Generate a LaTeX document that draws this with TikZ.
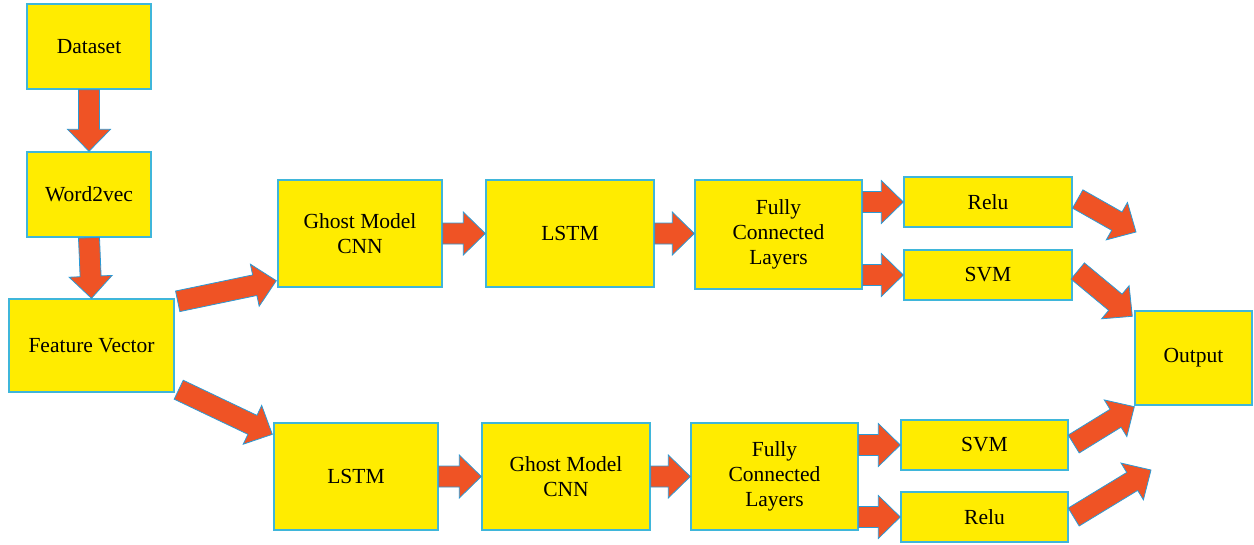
\documentclass[tikz,border=0pt]{standalone}
\usepackage{fontspec}
\setmainfont{Liberation Serif}
\usetikzlibrary{calc}

\definecolor{boxfill}{HTML}{FFEC00}
\definecolor{boxline}{HTML}{3FB6DA}
\definecolor{arrowfill}{HTML}{EF5325}
\definecolor{arrowline}{HTML}{2A9AD6}

\tikzset{
  stage/.style={draw=boxline, fill=boxfill, line width=1.4pt, align=center,
    font=\fontsize{21.5}{25}\selectfont, inner sep=0pt},
  blockarrow/.style={draw=arrowline, fill=arrowfill, line width=0.8pt, line join=miter},
}

% box given by its corners (x1,y1) and (x2,y2)
\newcommand\stagebox[6]{%
  \node[stage, minimum width={(#4-#2)*1pt}, minimum height={(#5-#3)*1pt}]
    (#1) at ({(#2+#4)/2},{(#3+#5)/2}) {#6};}

% fat block arrow from #1 to #2 (shaft 21pt, head 43pt wide, 22pt long)
\newcommand\bigarrow[2]{%
  \path ($(#2)!22pt!(#1)$) coordinate (hb);
  \draw[blockarrow]
    ($(#1)!10.5pt!90:(#2)$) -- ($(hb)!10.5pt!-90:(#1)$) -- ($(hb)!21.5pt!-90:(#1)$)
    -- (#2) -- ($(hb)!21.5pt!90:(#1)$) -- ($(hb)!10.5pt!90:(#1)$)
    -- ($(#1)!10.5pt!-90:(#2)$) -- cycle;}

\begin{document}
\begin{tikzpicture}[x=1pt, y=-1pt]
\useasboundingbox (0,0) rectangle (1254,544);

\stagebox{ds}{27}{4}{151}{89}{Dataset}
\stagebox{wv}{27}{152}{151}{237}{Word2vec}
\stagebox{fv}{9}{299}{174}{392}{Feature Vector}

\stagebox{gc1}{278}{180}{442}{287}{Ghost Model\\CNN}
\stagebox{ls1}{486}{180}{654}{287}{LSTM}
\stagebox{fc1}{695}{180}{862}{289}{Fully\\Connected\\Layers}
\stagebox{re1}{904}{177}{1072}{227}{Relu}
\stagebox{sv1}{904}{250}{1072}{300}{SVM}

\stagebox{out}{1135}{311}{1252}{405}{Output}

\stagebox{ls2}{274}{423}{438}{530}{LSTM}
\stagebox{gc2}{482}{423}{650}{530}{Ghost Model\\CNN}
\stagebox{fc2}{691}{423}{858}{530}{Fully\\Connected\\Layers}
\stagebox{sv2}{901}{420}{1068}{470}{SVM}
\stagebox{re2}{901}{492}{1068}{542}{Relu}

% free arrow ends beside the output box
\coordinate (reTip) at (1136,232);
\coordinate (reTipB) at (1151,470);

\bigarrow{ds.south}{wv.north}
\bigarrow{wv.south}{fv.north}

\bigarrow{$(fv.north east)+(3,3)$}{$(gc1.south west)+(-1,-7)$}
\bigarrow{$(fv.south east)+(4,-3)$}{$(ls2.north west)+(-1,12)$}

\bigarrow{gc1.east}{ls1.west}
\bigarrow{ls1.east}{ls1.east -| fc1.west}
\bigarrow{fc1.east |- re1.west}{re1.west}
\bigarrow{fc1.east |- sv1.west}{sv1.west}
\bigarrow{$(re1.east)+(5,-3)$}{reTip}
\bigarrow{$(sv1.east)+(5,-4)$}{$(out.north west)+(-2,6)$}

\bigarrow{ls2.east}{gc2.west}
\bigarrow{gc2.east}{fc2.west}
\bigarrow{fc2.east |- sv2.west}{sv2.west}
\bigarrow{fc2.east |- re2.west}{re2.west}
\bigarrow{$(sv2.east)+(5,-1)$}{$(out.south west)+(0,1)$}
\bigarrow{$(re2.east)+(5,0)$}{reTipB}
\end{tikzpicture}
\end{document}
